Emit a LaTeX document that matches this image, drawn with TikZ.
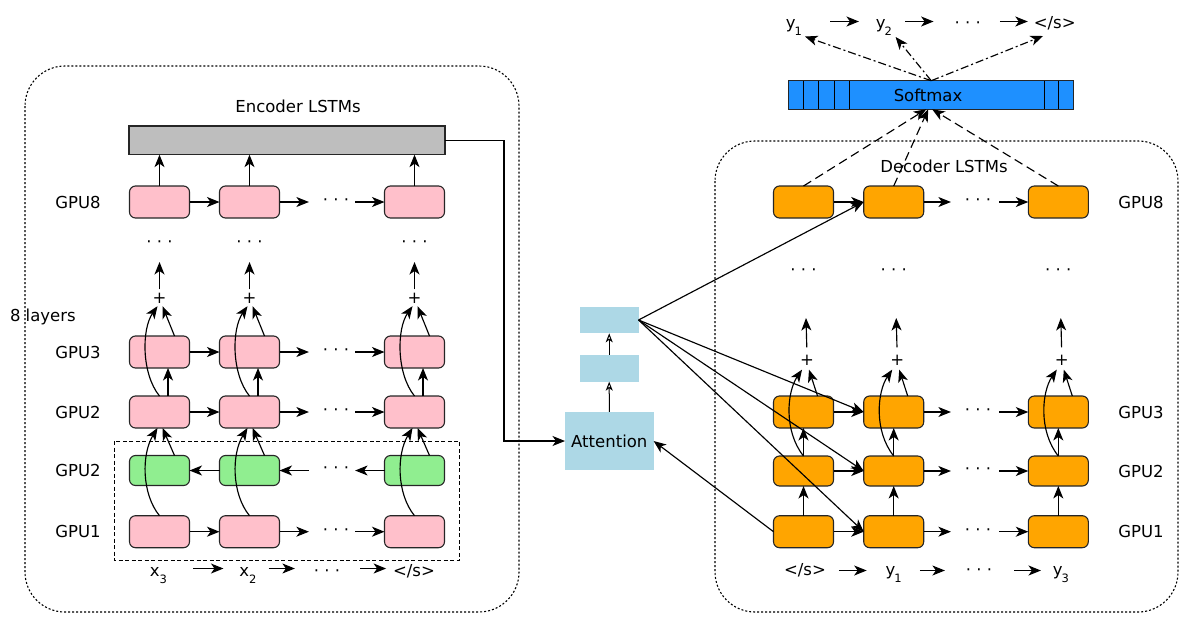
\documentclass[tikz,border=0pt]{standalone}
\usepackage{fontspec}
\setmainfont{DejaVu Sans}
\usetikzlibrary{arrows.meta,calc}
\definecolor{pinkc}{HTML}{FFC0CB}
\definecolor{greenc}{HTML}{90EE90}
\definecolor{orangec}{HTML}{FFA500}
\definecolor{lblue}{HTML}{ADD8E6}
\definecolor{smblue}{HTML}{1E90FF}
\definecolor{greyc}{HTML}{BEBEBE}
\newcommand\lowsub[1]{\raisebox{-7pt}{\fontsize{11.5}{12}\selectfont #1}}
\begin{document}
\begin{tikzpicture}[x=1pt,y=-1pt,
  every node/.style={font=\fontsize{16.5}{19}\selectfont, inner sep=0pt, outer sep=0pt},
  cell/.style={draw=black!85, line width=1.1pt, rounded corners=6pt, minimum width=60pt, minimum height=32pt},
  pinkcell/.style={cell, fill=pinkc},
  greencell/.style={cell, fill=greenc, minimum height=30pt},
  orangecell/.style={cell, fill=orangec},
  bluebox/.style={fill=lblue, minimum width=58.7pt, minimum height=26.7pt},
  arr/.style={-{Stealth[length=12.5pt,width=10pt,inset=3.5pt]}, line width=1.15pt},
  oarr/.style={-{Stealth[open,length=9pt,width=7pt,inset=2.5pt]}, line width=1pt},
  dasharr/.style={arr, dash pattern=on 9pt off 5pt},
  dotdash/.style={arr, dash pattern=on 8pt off 3pt on 2pt off 3pt},
  outerbox/.style={line width=1.1pt, dash pattern=on 2pt off 2pt, rounded corners=40pt},
  innerbox/.style={line width=1pt, dash pattern=on 4pt off 2.5pt},
  lbl/.style={anchor=base},
]
\useasboundingbox (0,0) rectangle (1198,629);

% ---------------- containers
\draw[outerbox] (25,66) rectangle (519,612);
\draw[outerbox] (715,141) rectangle (1178,612);
\draw[innerbox] (114,441) rectangle (459.5,560);

% ---------------- encoder
\node (encl) at (298,106) {Encoder LSTMs};
\node[draw=black!85, line width=1.1pt, fill=greyc, minimum width=316pt, minimum height=28.7pt] (enc) at (287,140.3) {};
\node (lg8) at (78,202) {GPU8};
\node (lg3) at (78,352) {GPU3};
\node (lg2) at (78,412) {GPU2};
\node (lgg) at (78,470.5) {GPU2};
\node (lg1) at (78,531.7) {GPU1};
\node[anchor=base west] (layers) at (10,321.5) {8 layers};

\foreach \i/\x in {1/159.5,2/249.5,3/414.5}{
  \node[pinkcell] (e8\i) at (\x,202) {};
  \node[pinkcell] (e3\i) at (\x,352) {};
  \node[pinkcell] (e2\i) at (\x,412) {};
  \node[greencell] (g\i) at (\x,470.5) {};
  \node[pinkcell] (e1\i) at (\x,531.7) {};
  \node (ed\i) at (\x,244) {· · ·};
  \node (ep\i) at (\x,298) {+};
  \coordinate (et\i) at (\x,262);
  \draw[arr] (e8\i.north) -- (e8\i.north |- enc.south);
  \draw[arr, shorten <=3.5pt] (ep\i.north) -- (et\i);
  \draw[arr] ($(e3\i.north)+(15,0)$) -- ($(ep\i.south)+(3,3)$);
  \draw[arr] (e2\i.north) .. controls ($(e2\i.north)+(-18,-22)$) and ($(ep\i.south)+(-18,26)$) .. ($(ep\i.south)+(-2,3)$);
  \draw[arr] ($(e2\i.north)+(8.5,0)$) -- ($(e3\i.south)+(8.5,0)$);
  \draw[arr] ($(g\i.north)+(15,0)$) -- ($(e2\i.south)+(3,0)$);
  \draw[arr] (e1\i.north) .. controls ($(e1\i.north)+(-18,-22)$) and ($(e2\i.south)+(-18,26)$) .. ($(e2\i.south)+(-2,0)$);
}

\foreach \r/\y in {8/202,3/352,2/412,1/531.7}{
  \node (eh\r) at (336,\y) {· · ·};
  \draw[arr] (e\r1.east) -- (e\r2.west);
  \draw[arr, shorten >=14pt] (e\r2.east) -- (eh\r.west);
  \draw[arr, shorten <=6pt] (eh\r.east) -- (e\r3.west);
}
\node (ehg) at (336,470.5) {· · ·};
\draw[arr] (g2.west) -- (g1.east);
\draw[arr, shorten <=14pt] (ehg.west) -- (g2.east);
\draw[arr, shorten >=6pt] (g3.west) -- (ehg.east);

% encoder input row
\node[lbl] (bx3) at (158.5,576.5) {x\lowsub{3}};
\node[lbl] (bx2) at (248,576.5) {x\lowsub{2}};
\node[lbl] (bxd) at (327,576.5) {· · ·};
\node[lbl] (bxs) at (414,576.5) {</s>};
\draw[arr] ($(bx3.base east)+(26,-8)$) -- ($(bx2.base west)+(-16,-8)$);
\draw[arr] ($(bx2.base east)+(12,-8)$) -- ($(bxd.base west)+(-19,-8)$);
\draw[arr] ($(bxd.base east)+(20,-8)$) -- ($(bxs.base west)+(-7,-8)$);

% ---------------- attention
\node[fill=lblue, minimum width=88.6pt, minimum height=58.3pt] (att) at (609.3,441) {Attention};
\node[bluebox] (b1) at (609.2,368.3) {};
\node[bluebox] (b2) at (609.2,320) {};
\coordinate (bend) at (504,140.3);
\draw[line width=1.1pt] (enc.east) -- (bend);
\draw[arr] (bend) |- (att.west);
\draw[oarr] (att.north) -- (b1.south);
\draw[oarr] (b1.north) -- (b2.south);

% ---------------- decoder
\node (decl) at (944,166) {Decoder LSTMs};
\node (ld8) at (1141,202) {GPU8};
\node (ld3) at (1141,412) {GPU3};
\node (ld2) at (1141,471) {GPU2};
\node (ld1) at (1141,531.7) {GPU1};

\node[draw=black!85, line width=1pt, fill=smblue, minimum width=285pt, minimum height=28.6pt] (sm) at (931.2,95) {};
\foreach \xx in {803.7,818.8,834.3,849.4,1044,1058.7}{
  \draw[line width=1pt] (\xx,80.7) -- (\xx,109.3);
}
\node (smt) at (928,95) {Softmax};

\foreach \i/\x in {1/803.5,2/893.7,3/1058.3}{
  \node[orangecell] (d8\i) at (\x,202) {};
  \node[orangecell] (d3\i) at (\x,412) {};
  \node[orangecell, minimum height=30pt] (d2\i) at (\x,471) {};
  \node[orangecell] (d1\i) at (\x,531.7) {};
  \node (dd\i) at (\x,272) {· · ·};
  \node (dp\i) at ($(\x,360.5)+(3.5,0)$) {+};
  \coordinate (dt\i) at ($(\x,318)+(2.5,0)$);
  \draw[arr, shorten <=8pt] (dp\i.north) -- (dt\i);
  \draw[arr] ($(d3\i.north)+(14,0)$) -- ($(dp\i.south)+(2,4)$);
  \draw[arr] (d2\i.north) .. controls ($(d2\i.north)+(-20,-25)$) and ($(dp\i.south)+(-20,26)$) .. ($(dp\i.south)+(-5,4)$);
  \draw[arr] (d2\i.north) -- (d3\i.south);
  \draw[arr] (d1\i.north) -- (d2\i.south);
}
\draw[dasharr] (d81.north) -- ($(sm.south)+(-5,0)$);
\draw[dasharr] (d82.north) -- ($(sm.south)+(-3,0)$);
\draw[dasharr] (d83.north) -- ($(sm.south)+(1,0)$);

\foreach \r/\y in {8/202,3/412,2/471,1/531.7}{
  \node (dh\r) at (978,\y) {· · ·};
  \draw[arr] (d\r1.east) -- (d\r2.west);
  \draw[arr, shorten >=14pt] (d\r2.east) -- (dh\r.west);
  \draw[arr, shorten <=8pt] (dh\r.east) -- (d\r3.west);
}

% decoder input row
\node[lbl] (bs) at (805,575.5) {</s>};
\node[lbl] (by1) at (893.7,575.5) {y\kern-1pt\lowsub{1}};
\node[lbl] (byd) at (979,575.5) {· · ·};
\node[lbl] (by3) at (1061,575.5) {y\kern-1pt\lowsub{3}};
\draw[arr] ($(bs.base east)+(13,-5)$) -- ($(by1.base west)+(-19,-5)$);
\draw[arr] ($(by1.base east)+(18,-5)$) -- ($(byd.base west)+(-21,-5)$);
\draw[arr] ($(byd.base east)+(22,-5)$) -- ($(by3.base west)+(-12,-5)$);

% attention connections
\foreach \t in {d82,d32,d22,d12}{
  \draw[arr] (b2.east) -- (\t.west);
}
\draw[arr] (d11.west) -- (att.east);

% output row
\node[lbl] (ty1) at (794,28.5) {y\kern-1pt\lowsub{1}};
\node[lbl] (ty2) at (884,28.5) {y\kern-1pt\lowsub{2}};
\node[lbl] (tyd) at (967.7,28.5) {· · ·};
\node[lbl] (tys) at (1054.7,28.5) {</s>};
\draw[arr] ($(ty1.base east)+(28,-7)$) -- ($(ty2.base west)+(-17,-7)$);
\draw[arr] ($(ty2.base east)+(13,-7)$) -- ($(tyd.base west)+(-21,-7)$);
\draw[arr] ($(tyd.base east)+(19,-7)$) -- ($(tys.base west)+(-6,-7)$);
\draw[dotdash] (sm.north) -- ($(ty1.base)+(11,8)$);
\draw[dotdash] (sm.north) -- ($(ty2.base)+(11.6,8.5)$);
\draw[dotdash] (sm.north) -- ($(tys.base)+(-11.7,7.5)$);
\end{tikzpicture}
\end{document}
